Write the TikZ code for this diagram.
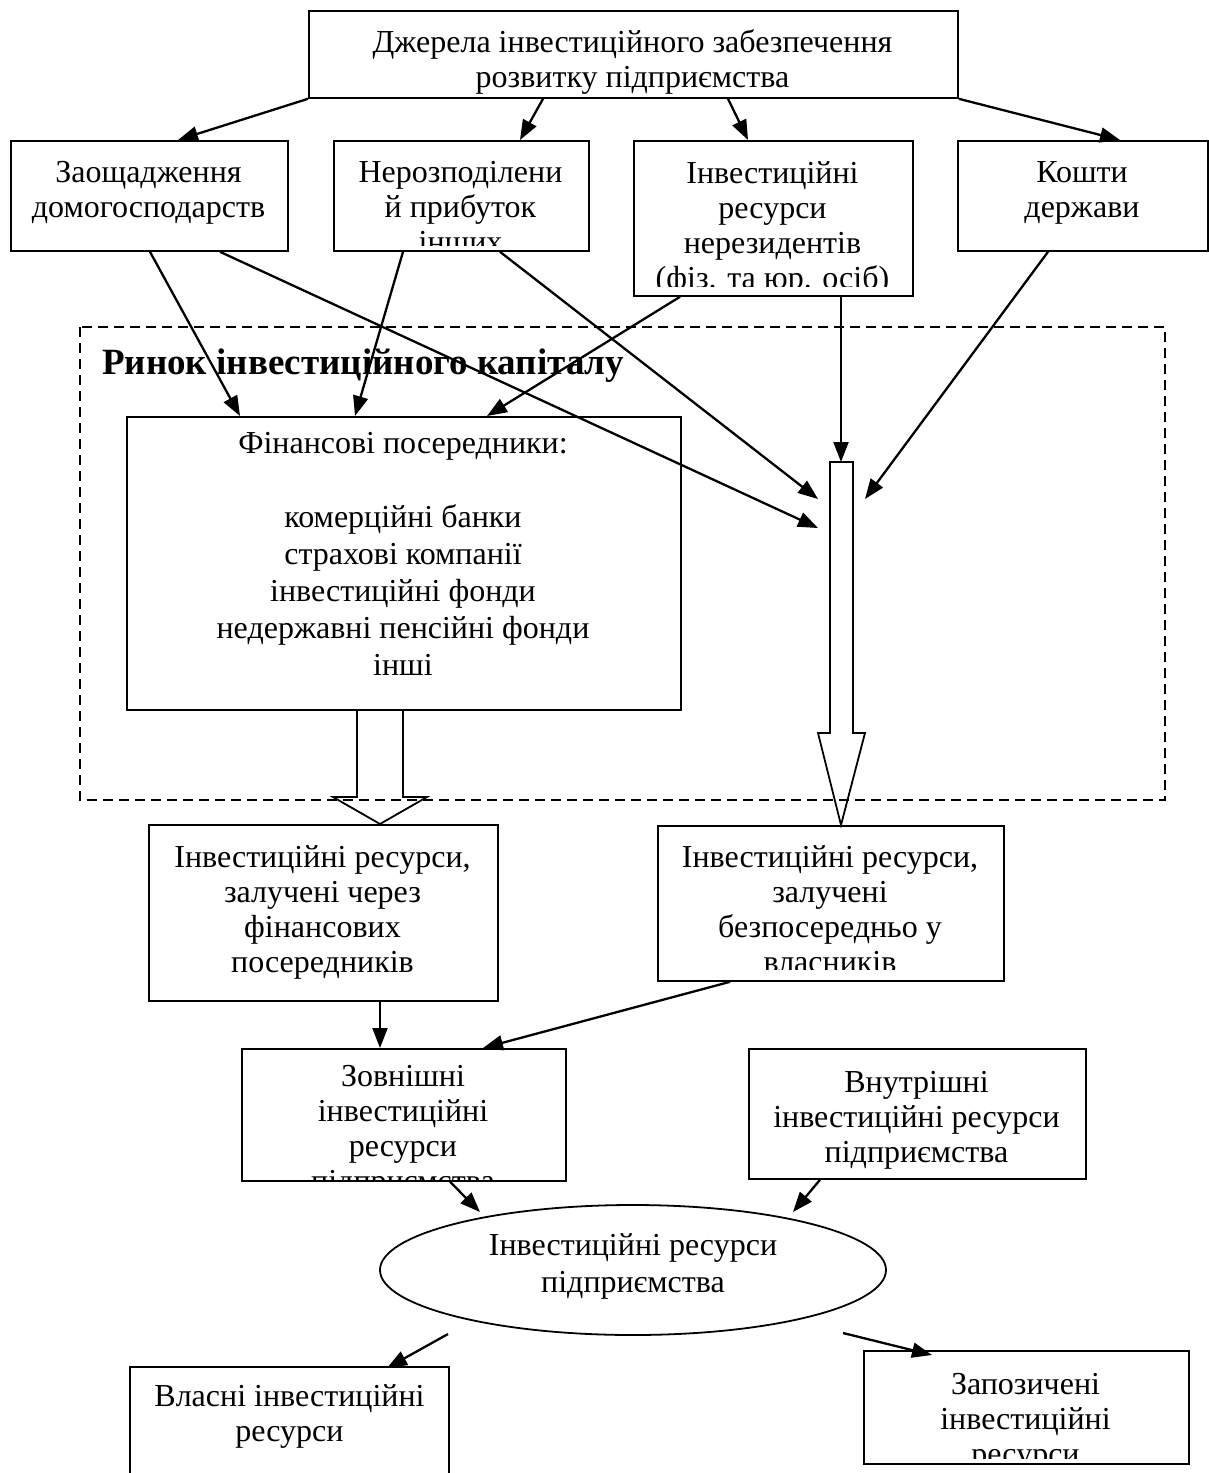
\documentclass[tikz,border=0pt]{standalone}
\usepackage{fontspec}
\setmainfont{Liberation Serif}
\usetikzlibrary{arrows.meta,shapes.geometric}
\tikzset{
  box/.style={draw, line width=1.8pt, anchor=north west, inner sep=0pt},
  txt/.style={font=\fontsize{32}{35}\selectfont, align=center, inner sep=0pt, anchor=north,
              execute at begin node=\rule{0pt}{24pt}},
  arr/.style={line width=2.3pt, -{Triangle[length=20pt,width=15pt]}},
  blockarrow/.style={line width=1.8pt, line join=miter},
}
% #1 box name, #2 text x, #3 first baseline y, #4 clip bottom y, #5 text
\newcommand{\clipbox}[5]{%
  \begin{scope}
    \clip (#1.north west) rectangle (#1.east |- 0,#4);
    \node[txt] (#1t) at (#2,#3-24) {#5};
  \end{scope}}
\begin{document}
\begin{tikzpicture}[x=1pt,y=-1pt]
\useasboundingbox (0,0) rectangle (1209,1473);
% top
\node[box, minimum width=649pt, minimum height=87pt] (top) at (308,10) {};
\node[txt] (topt) at (632.5,53-24) {Джерела інвестиційного забезпечення\\розвитку підприємства};
% row of sources
\node[box, minimum width=277pt, minimum height=110pt] (zao) at (10,140) {};
\node[txt] (zaot) at (148.5,185-24) {Заощадження\\домогосподарств};
\node[box, minimum width=255pt, minimum height=110pt] (ner) at (333,140) {};
\clipbox{ner}{460.5}{185}{245}{Нерозподілени\\й прибуток\\інших}
\node[box, minimum width=279pt, minimum height=155pt] (nrz) at (633,140) {};
\clipbox{nrz}{772.5}{185}{286}{Інвестиційні\\ресурси\\нерезидентів\\(фіз. та юр. осіб)}
\node[box, minimum width=250pt, minimum height=110pt] (kos) at (957,140) {};
\node[txt] (kost) at (1082,185-24) {Кошти\\держави};
% market
\draw[line width=1.5pt, dash pattern=on 10pt off 6pt] (80,327) rectangle (1165,800);
\node[anchor=base west, inner sep=0pt, font=\bfseries\fontsize{37}{40}\selectfont] (market) at (102,374) {Ринок інвестиційного капіталу};
\node[box, minimum width=554pt, minimum height=293pt] (fin) at (126,416) {};
\node[txt, font=\fontsize{32}{37}\selectfont] (fint) at (403,456-24) {Фінансові посередники:\\ \\комерційні банки\\страхові компанії\\інвестиційні фонди\\недержавні пенсійні фонди\\інші};
% block arrows
\draw[blockarrow] (357,709) -- (357,797) -- (333,797) -- (380,824) -- (427,797) -- (403,797) -- (403,709);
\draw[blockarrow] (830,462) -- (853,462) -- (853,733) -- (865,733) -- (841,825) -- (818,733) -- (830,733) -- cycle;
\coordinate (shafttop) at (841,462);
\coordinate (shaftl1) at (818,499);
\coordinate (shaftl2) at (818,528);
\coordinate (shaftr) at (865,499);
% middle boxes
\node[box, minimum width=349pt, minimum height=176pt] (via) at (148,824) {};
\node[txt] (viat) at (322.5,869-24) {Інвестиційні ресурси,\\залучені через\\фінансових\\посередників};
\node[box, minimum width=346pt, minimum height=155pt] (dir) at (657,825) {};
\clipbox{dir}{830}{869}{969}{Інвестиційні ресурси,\\залучені\\безпосередньо у\\власників}
\node[box, minimum width=324pt, minimum height=132pt] (ext) at (241,1048) {};
\clipbox{ext}{403}{1089}{1180}{\fontsize{32}{33}\selectfont Зовнішні\\інвестиційні\\ресурси\\підприємства}
\node[box, minimum width=337pt, minimum height=130pt] (int) at (748,1048) {};
\node[txt] (intt) at (916.5,1095-24) {Внутрішні\\інвестиційні ресурси\\підприємства};
% ellipse
\node[draw, ellipse, line width=1.8pt, minimum width=506pt, minimum height=130pt, inner sep=0pt] (res) at (633,1270) {};
\node[txt, font=\fontsize{32}{37}\selectfont] (rest) at (633,1257-24) {Інвестиційні ресурси\\підприємства};
% bottom boxes
\draw[line width=1.8pt] (130,1473) -- (130,1367) coordinate (own) -- (449,1367) -- (449,1473);
\node[txt] (ownt) at (289.5,1408-24) {Власні інвестиційні\\ресурси};
\node[box, minimum width=325pt, minimum height=113pt] (bor) at (863,1350) {};
\clipbox{bor}{1025.5}{1397}{1458}{Запозичені\\інвестиційні\\ресурси}
% arrows
\draw[arr] (top.south west) -- (178,140);
\draw[arr] ([xshift=235pt]top.south west) -- (520,140);
\draw[arr] ([xshift=420pt]top.south west) -- (748,140);
\draw[arr] (top.south east) -- (1120,140);
\draw[arr] ([xshift=140pt]zao.south west) -- (240,416);
\draw[arr] ([xshift=210pt]zao.south west) -- (shaftl2);
\draw[arr] ([xshift=70pt]ner.south west) -- (355,416);
\draw[arr] ([xshift=167pt]ner.south west) -- (shaftl1);
\draw[arr] ([xshift=47pt]nrz.south west) -- (487,416);
\draw[arr] ([xshift=208pt]nrz.south west) -- (shafttop);
\draw[arr] ([xshift=91pt]kos.south west) -- (shaftr);
\draw[arr] ([xshift=232pt]via.south west) -- (380,1048);
\draw[arr] ([xshift=73pt]dir.south west) -- (483,1048);
\draw[arr] ([xshift=209pt]ext.south west) -- (480,1212);
\draw[arr] ([xshift=72pt]int.south west) -- (793,1212);
\draw[arr] (448,1334) -- (387,1368);
\draw[arr] (843,1333) -- (932,1355);
\end{tikzpicture}
\end{document}
